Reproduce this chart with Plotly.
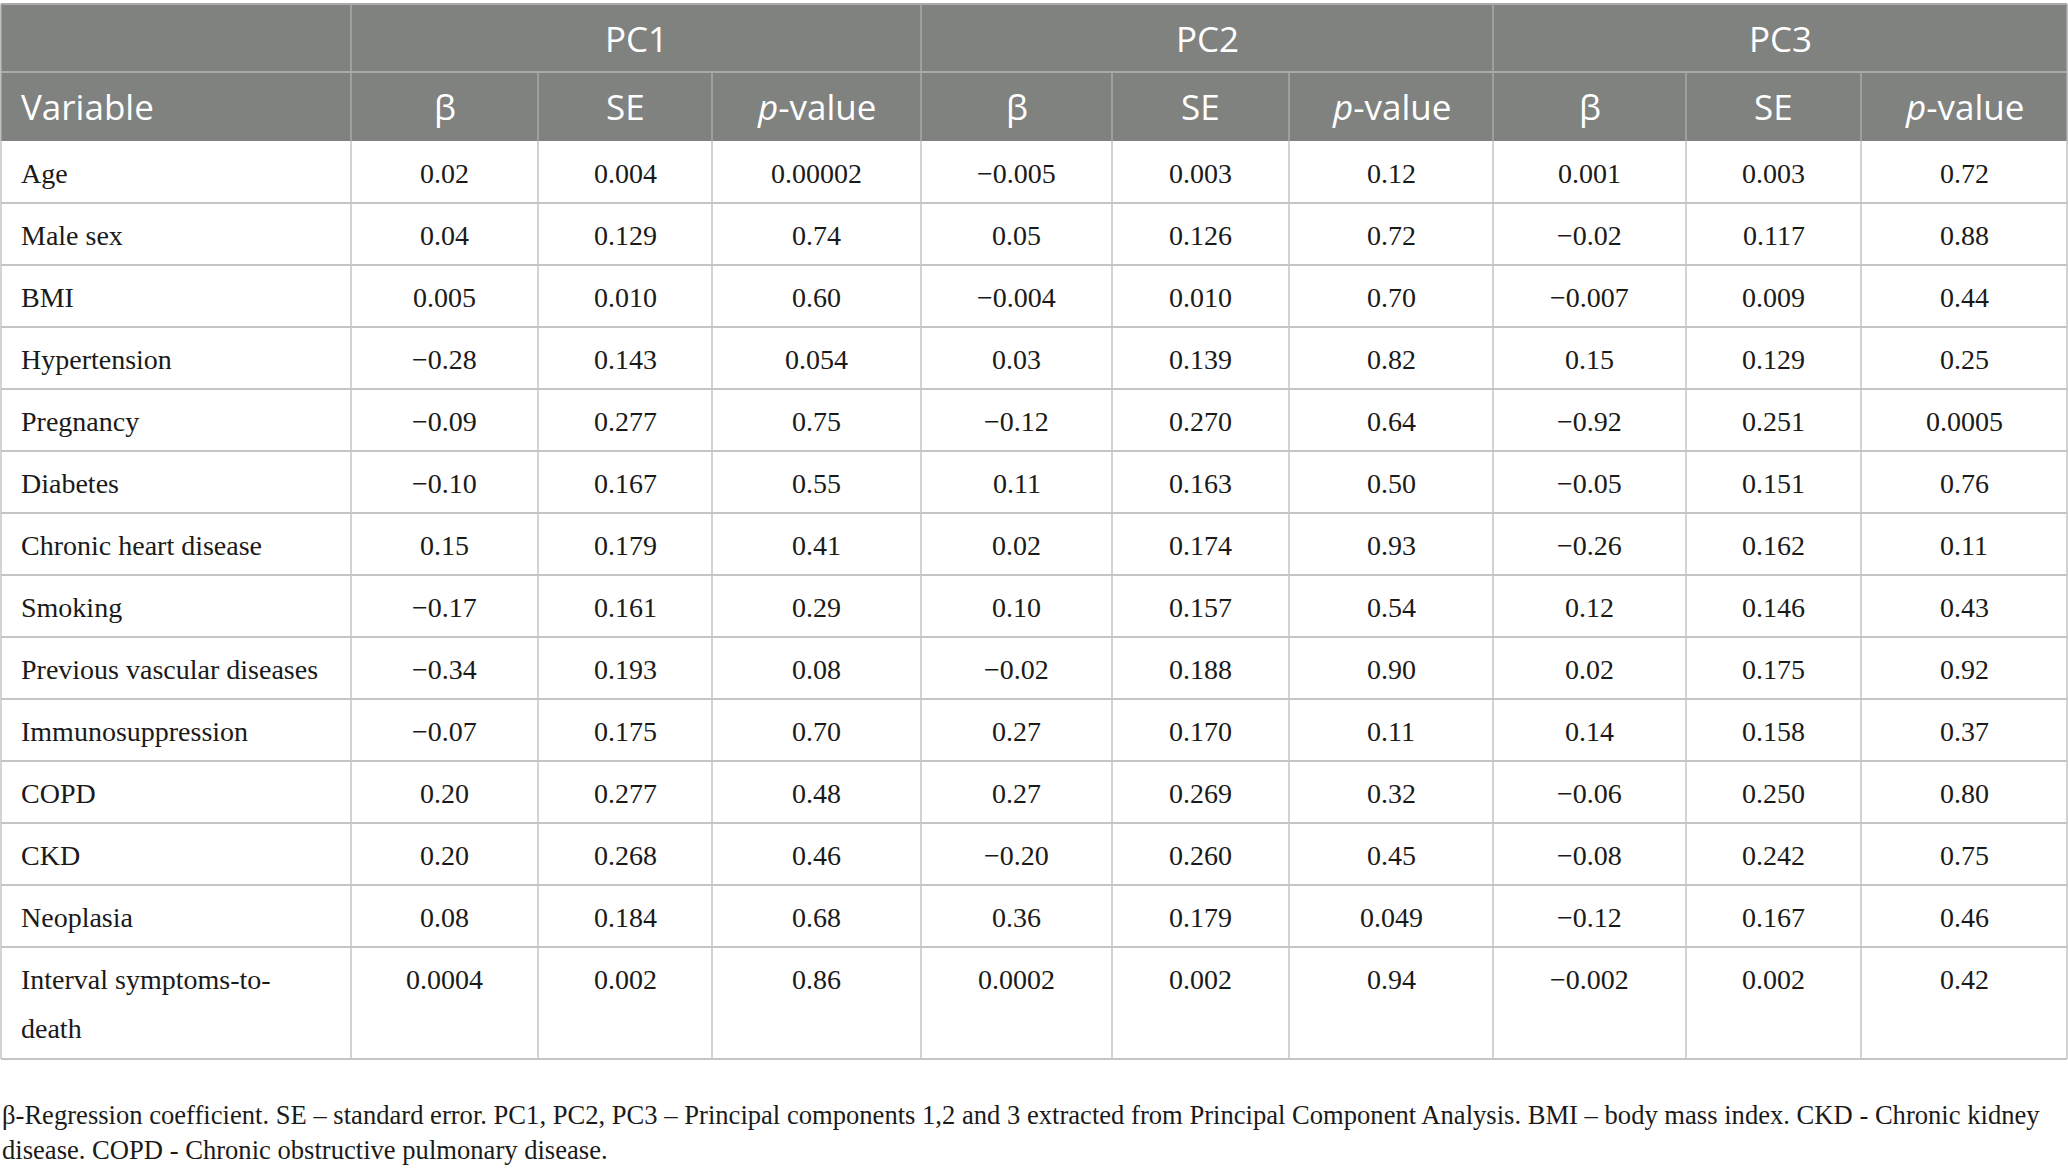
import plotly.graph_objects as go

# table content
variables = ["Age", "Male sex", "BMI", "Hypertension", "Pregnancy", "Diabetes",
             "Chronic heart disease", "Smoking", "Previous vascular diseases",
             "Immunosuppression", "COPD", "CKD", "Neoplasia",
             "Interval symptoms-to-|death"]

components = ["PC1", "PC2", "PC3"]
sub_headers = ["β", "SE", "<i>p</i>-value"]

pc1_beta = ["0.02", "0.04", "0.005", "−0.28", "−0.09", "−0.10", "0.15", "−0.17", "−0.34", "−0.07", "0.20", "0.20", "0.08", "0.0004"]
pc1_se = ["0.004", "0.129", "0.010", "0.143", "0.277", "0.167", "0.179", "0.161", "0.193", "0.175", "0.277", "0.268", "0.184", "0.002"]
pc1_p = ["0.00002", "0.74", "0.60", "0.054", "0.75", "0.55", "0.41", "0.29", "0.08", "0.70", "0.48", "0.46", "0.68", "0.86"]

pc2_beta = ["−0.005", "0.05", "−0.004", "0.03", "−0.12", "0.11", "0.02", "0.10", "−0.02", "0.27", "0.27", "−0.20", "0.36", "0.0002"]
pc2_se = ["0.003", "0.126", "0.010", "0.139", "0.270", "0.163", "0.174", "0.157", "0.188", "0.170", "0.269", "0.260", "0.179", "0.002"]
pc2_p = ["0.12", "0.72", "0.70", "0.82", "0.64", "0.50", "0.93", "0.54", "0.90", "0.11", "0.32", "0.45", "0.049", "0.94"]

pc3_beta = ["0.001", "−0.02", "−0.007", "0.15", "−0.92", "−0.05", "−0.26", "0.12", "0.02", "0.14", "−0.06", "−0.08", "−0.12", "−0.002"]
pc3_se = ["0.003", "0.117", "0.009", "0.129", "0.251", "0.151", "0.162", "0.146", "0.175", "0.158", "0.250", "0.242", "0.167", "0.002"]
pc3_p = ["0.72", "0.88", "0.44", "0.25", "0.0005", "0.76", "0.11", "0.43", "0.92", "0.37", "0.80", "0.75", "0.46", "0.42"]

footnote = ["β-Regression coefficient. SE – standard error. PC1, PC2, PC3 – Principal components 1,2 and 3 extracted from Principal Component Analysis. BMI – body mass index. CKD - Chronic kidney",
            "disease. COPD - Chronic obstructive pulmonary disease."]

columns = [pc1_beta, pc1_se, pc1_p, pc2_beta, pc2_se, pc2_p, pc3_beta, pc3_se, pc3_p]

# geometry (pixels)
W, H = 2068, 1174
col_edges = [1, 351, 538, 712, 921, 1112, 1289, 1493, 1686, 1861, 2067]
top, h1_bottom, h2_bottom = 4, 72, 141
row_h = 62
last_row_h = 112

header_fill = "#808280"
header_line = "#a9aaa9"
grid_line = "#c4c4c4"
serif = "Liberation Serif"
sans = "Open Sans"

fig = go.Figure()

# header background
fig.add_shape(type="rect", x0=col_edges[0], x1=col_edges[-1], y0=top, y1=h2_bottom,
              fillcolor=header_fill, line_width=0, layer="below")

# row boundaries
row_tops = [h2_bottom + row_h * i for i in range(len(variables))]
row_bottoms = row_tops[1:] + [row_tops[-1] + last_row_h]
table_bottom = row_bottoms[-1]

# horizontal lines
fig.add_shape(type="line", x0=col_edges[0], x1=col_edges[-1], y0=top, y1=top, line=dict(color=header_line, width=2))
fig.add_shape(type="line", x0=col_edges[0], x1=col_edges[-1], y0=h1_bottom, y1=h1_bottom, line=dict(color=header_line, width=2))
for yb in row_bottoms:
    fig.add_shape(type="line", x0=col_edges[0], x1=col_edges[-1], y0=yb, y1=yb, line=dict(color=grid_line, width=2))

# vertical lines
for i, xe in enumerate(col_edges):
    if i in (0, 1, 4, 7, len(col_edges) - 1):
        fig.add_shape(type="line", x0=xe, x1=xe, y0=top, y1=h1_bottom, line=dict(color=header_line, width=1.5))
    fig.add_shape(type="line", x0=xe, x1=xe, y0=h1_bottom, y1=h2_bottom, line=dict(color=header_line, width=1.5))
    fig.add_shape(type="line", x0=xe, x1=xe, y0=h2_bottom, y1=table_bottom, line=dict(color=grid_line, width=1.5))

# header text
head_font = dict(family=sans, size=35, color="white")
for k, name in enumerate(components):
    xc = (col_edges[1 + 3 * k] + col_edges[4 + 3 * k]) / 2
    fig.add_annotation(x=xc, y=(top + h1_bottom) / 2, text=name, showarrow=False,
                       font=head_font, xanchor="center", yanchor="middle")
fig.add_annotation(x=19, y=(h1_bottom + h2_bottom) / 2, text="Variable", showarrow=False,
                   font=head_font, xanchor="left", yanchor="middle")
for j in range(9):
    xc = (col_edges[1 + j] + col_edges[2 + j]) / 2
    fig.add_annotation(x=xc, y=(h1_bottom + h2_bottom) / 2, text=sub_headers[j % 3], showarrow=False,
                       font=head_font, xanchor="center", yanchor="middle")

# body text
body_font = dict(family=serif, size=28, color="#1a1a1a")
for i, var in enumerate(variables):
    yc = row_tops[i] + 32
    lines = var.split("|")
    for n, ln in enumerate(lines):
        fig.add_annotation(x=19, y=yc + 49 * n, text=ln, showarrow=False, font=body_font,
                           xanchor="left", yanchor="middle")
    for j, col in enumerate(columns):
        xc = (col_edges[1 + j] + col_edges[2 + j]) / 2
        fig.add_annotation(x=xc, y=yc, text=col[i], showarrow=False, font=body_font,
                           xanchor="center", yanchor="middle")

# footnote
foot_font = dict(family=serif, size=26.6, color="#1a1a1a")
for n, ln in enumerate(footnote):
    fig.add_annotation(x=0, y=1115 + 35 * n, text=ln, showarrow=False, font=foot_font,
                       xanchor="left", yanchor="middle")

fig.update_xaxes(range=[0, W], visible=False, fixedrange=True)
fig.update_yaxes(range=[H, 0], visible=False, fixedrange=True)
fig.update_layout(width=W, height=H, margin=dict(l=0, r=0, t=0, b=0),
                  plot_bgcolor="white", paper_bgcolor="white", showlegend=False)

# drop the default page margin so the table sits flush with the window edge
fig.write_html("out.html", config={"displayModeBar": False},
               post_script="document.body.style.margin = '0px';")
